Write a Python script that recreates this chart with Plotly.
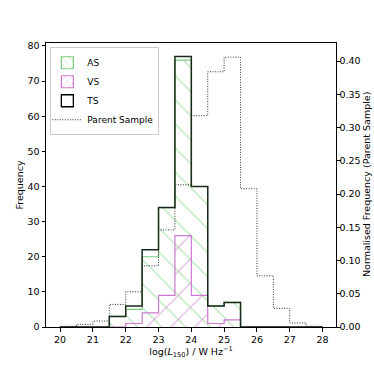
import numpy as np
import plotly.graph_objects as go

# bin edges (width 0.5)
edges = np.arange(20.0, 28.01, 0.5)

# counts per bin, 20.0-28.0
as_counts = [0, 0, 0, 3, 5, 20, 34, 76, 40, 6, 7, 0, 0, 0, 0, 0]
vs_counts = [0, 0, 0, 0, 1, 4, 9, 26, 9, 1, 2, 0, 0, 0, 0, 0]
ts_counts = [0, 0, 0, 3, 6, 22, 34, 77, 40, 6, 7, 0, 0, 0, 0, 0]
# parent sample, density normalised
parent = [0.001, 0.004, 0.009, 0.034, 0.053, 0.092, 0.146, 0.214,
          0.318, 0.384, 0.406, 0.208, 0.077, 0.028, 0.006, 0.001]

green = "#7ccb7c"
pink = "#cc79d0"
dotted = "1px,1.5px"


def step(vals):
    # outline of a step histogram
    xs, ys = [edges[0]], [0]
    for i, v in enumerate(vals):
        xs += [edges[i], edges[i + 1]]
        ys += [v, v]
    xs.append(edges[-1])
    ys.append(0)
    return xs, ys


fig = go.Figure()

x, y = step(as_counts)
fig.add_trace(go.Scatter(x=x, y=y, mode="lines", showlegend=False, fill="toself",
                         fillcolor="rgba(0,0,0,0)",
                         fillpattern=dict(shape="\\", fgcolor=green, bgcolor="rgba(0,0,0,0)",
                                          size=17, solidity=0.08),
                         line=dict(color=green, width=1.2)))
x, y = step(vs_counts)
fig.add_trace(go.Scatter(x=x, y=y, mode="lines", showlegend=False, fill="toself",
                         fillcolor="rgba(0,0,0,0)",
                         fillpattern=dict(shape="/", fgcolor=pink, bgcolor="rgba(0,0,0,0)",
                                          size=17, solidity=0.08),
                         line=dict(color=pink, width=1.2)))
x, y = step(ts_counts)
fig.add_trace(go.Scatter(x=x, y=y, mode="lines", showlegend=False,
                         line=dict(color="#1a2a1a", width=1.5)))
x, y = step(parent)
fig.add_trace(go.Scatter(x=x, y=y, mode="lines", showlegend=False, yaxis="y2",
                         line=dict(color="#333333", width=1, dash=dotted)))

# legend entries (rectangles, like matplotlib patches)
fig.add_trace(go.Bar(x=[None], y=[None], name="AS",
                     marker=dict(color="rgba(0,0,0,0)", line=dict(color=green, width=1.2),
                                 pattern=dict(shape="\\", fgcolor=green, size=6, solidity=0.15))))
fig.add_trace(go.Bar(x=[None], y=[None], name="VS",
                     marker=dict(color="rgba(0,0,0,0)", line=dict(color=pink, width=1.2),
                                 pattern=dict(shape="/", fgcolor=pink, size=6, solidity=0.15))))
fig.add_trace(go.Bar(x=[None], y=[None], name="TS",
                     marker=dict(color="rgba(0,0,0,0)", line=dict(color="black", width=1.3))))
fig.add_trace(go.Scatter(x=[None], y=[None], name="Parent Sample", mode="lines",
                         line=dict(color="#333333", width=1, dash=dotted)))

font = dict(family="DejaVu Sans", size=9.5, color="black")
ax = dict(showline=True, linecolor="black", linewidth=1, ticks="outside", ticklen=3.5,
          tickcolor="black", showgrid=False, zeroline=False, automargin=False)
fig.update_layout(
    width=374, height=374,
    margin=dict(l=46, r=38, t=43, b=47),
    plot_bgcolor="white", paper_bgcolor="white",
    font=font,
    showlegend=True,
    legend=dict(x=0.015, y=0.985, xanchor="left", yanchor="top", traceorder="normal",
                bordercolor="#cccccc", borderwidth=1, bgcolor="rgba(255,255,255,0.8)",
                font=dict(family="DejaVu Sans", size=9), tracegroupgap=0,
                itemwidth=30, indentation=-4),
    xaxis=dict(ax, range=[19.57, 28.41], tickvals=list(range(20, 29)), mirror=True,
               title=dict(text="log(<i>L</i><sub>150</sub>) / W Hz<sup>−1</sup>",
                          font=dict(size=9.5), standoff=3)),
    yaxis=dict(ax, range=[0, 80.85], tickvals=list(range(0, 81, 10)),
               title=dict(text="Frequency", font=dict(size=9.5), standoff=2)),
    yaxis2=dict(ax, range=[0, 0.4273], overlaying="y", side="right", ticklabelstandoff=-3,
                tickvals=[0, 0.05, 0.1, 0.15, 0.2, 0.25, 0.3, 0.35, 0.4], tickformat=".2f"),
    annotations=[dict(text="Normalised Frequency (Parent Sample)", xref="paper", yref="paper",
                      x=1, y=0.5, xanchor="center", yanchor="middle", xshift=30,
                      textangle=-90, showarrow=False, font=dict(size=9.5))],
)

# no page margin, so the 374px figure fills the window
fig.write_html("out.html", config={"displayModeBar": False},
               post_script="document.body.style.margin='0';")
